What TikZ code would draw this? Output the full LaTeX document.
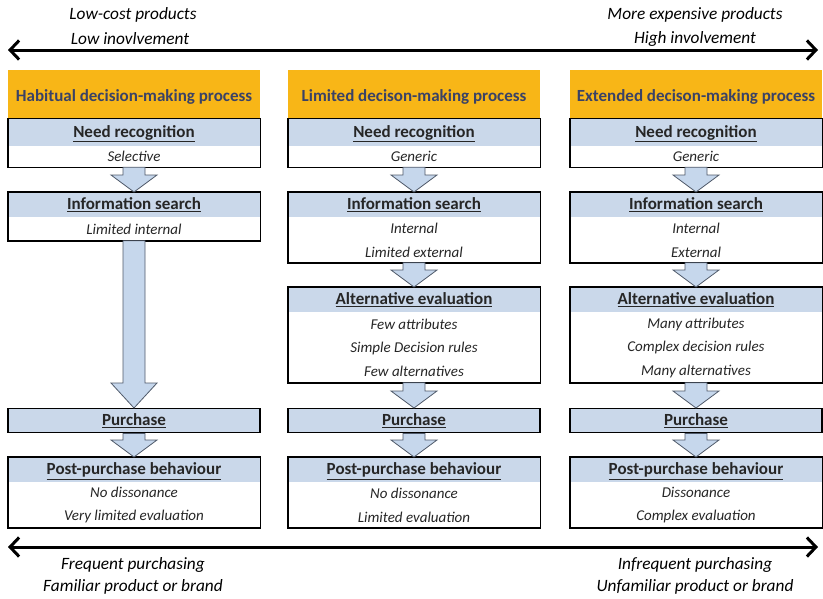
\documentclass[tikz,border=0pt]{standalone}
\usepackage{fontspec}
\setmainfont{Carlito}
\usepackage{xcolor}
\usetikzlibrary{arrows.meta,calc}
\definecolor{headorange}{HTML}{F8B617}
\definecolor{headtext}{HTML}{3A4266}
\definecolor{bandblue}{HTML}{CAD8EA}
\definecolor{arrowblue}{HTML}{C6D7EC}
\definecolor{arrowedge}{HTML}{505A6A}
\definecolor{bodytext}{HTML}{262626}
\tikzset{
header/.style = {rectangle, fill=headorange, minimum width=252pt, minimum height=48pt,
                 inner sep=0pt, anchor=north, text=headtext, text height=18pt, text depth=4pt,
                 font=\bfseries\fontsize{17}{19}\selectfont},
stagetitle/.style = {rectangle, fill=bandblue, minimum width=252pt, minimum height=25pt,
                     inner sep=0pt, anchor=north, text=bodytext, text height=14pt, text depth=4pt,
                     font=\bfseries\fontsize{17}{19}\selectfont},
stagebody/.style = {rectangle, fill=white, minimum width=252pt, inner sep=0pt,
                    anchor=north, align=center, text=bodytext,
                    font=\itshape\fontsize{15}{23.5}\selectfont},
stagebox/.style = {draw=black, line width=1.4pt},
purchase/.style = {stagetitle, minimum height=24pt, draw=black, line width=1.4pt},
scaletext/.style = {font=\itshape\fontsize{17.3}{19}\selectfont, text=black},
scalearrow/.style = {line width=3pt, {Straight Barb[length=9pt,width=19pt]}-{Straight Barb[length=9pt,width=19pt]}},
flowarrowstyle/.style = {fill=arrowblue, draw=arrowedge, line width=0.8pt, line join=miter}
}
% block arrow from (#1) down to (#2), head length #3
\newcommand{\flowarrow}[3]{%
  \path[flowarrowstyle] let \p1=(#1), \p2=(#2) in
    (\x1-11pt,\y1) -- (\x1-11pt,\y2+#3) -- (\x1-23pt,\y2+#3) -- (\x1,\y2)
    -- (\x1+23pt,\y2+#3) -- (\x1+11pt,\y2+#3) -- (\x1+11pt,\y1) -- cycle;}

\begin{document}
\begin{tikzpicture}[x=1pt,y=-1pt]
  \useasboundingbox (0,0) rectangle (823,598);

  % involvement scale on top
  \node[scaletext] (lowCost) at (133,15) {Low-cost products};
  \node[scaletext] (lowInv) at (130,39) {Low inovlvement};
  \node[scaletext] (moreExp) at (695,15) {More expensive products};
  \node[scaletext] (highInv) at (695,39) {High involvement};
  \coordinate (topLeft) at (8,50);
  \coordinate (topRight) at (818,50);
  \draw[scalearrow] (topLeft) -- (topRight);

  % column headers
  \node[header] (habHead) at (134,70) {Habitual decision-making process};
  \node[header] (limHead) at (414,70) {Limited decison-making process};
  \node[header] (extHead) at (696,70) {Extended decison-making process};

  % habitual column
  \node[stagetitle, minimum height=27pt] (habNeed) at (habHead.south) {\underline{Need recognition}};
  \node[stagebody, minimum height=21pt] (habNeedB) at (habNeed.south) {Selective};
  \draw[stagebox] (habNeed.north west) rectangle (habNeedB.south east);

  \node[stagetitle] (habInfo) at (134,192) {\underline{Information search}};
  \node[stagebody, minimum height=23pt] (habInfoB) at (habInfo.south) {Limited internal};
  \draw[stagebox] (habInfo.north west) rectangle (habInfoB.south east);

  \node[purchase] (habPurch) at (134,408) {\underline{Purchase}};

  \node[stagetitle] (habPost) at (134,457) {\underline{Post-purchase behaviour}};
  \node[stagebody, minimum height=45pt] (habPostB) at (habPost.south) {No dissonance\\Very limited evaluation};
  \draw[stagebox] (habPost.north west) rectangle (habPostB.south east);

  \flowarrow{habNeedB.south}{habInfo.north}{17pt}
  \flowarrow{habInfoB.south}{habPurch.north}{25pt}
  \flowarrow{habPurch.south}{habPost.north}{17pt}

  % limited column
  \node[stagetitle, minimum height=27pt] (limNeed) at (limHead.south) {\underline{Need recognition}};
  \node[stagebody, minimum height=21pt] (limNeedB) at (limNeed.south) {Generic};
  \draw[stagebox] (limNeed.north west) rectangle (limNeedB.south east);

  \node[stagetitle] (limInfo) at (414,192) {\underline{Information search}};
  \node[stagebody, minimum height=45pt] (limInfoB) at (limInfo.south) {Internal\\Limited external};
  \draw[stagebox] (limInfo.north west) rectangle (limInfoB.south east);

  \node[stagetitle] (limAlt) at (414,287) {\underline{Alternative evaluation}};
  \node[stagebody, minimum height=70pt] (limAltB) at (limAlt.south) {Few attributes\\Simple Decision rules\\Few alternatives};
  \draw[stagebox] (limAlt.north west) rectangle (limAltB.south east);

  \node[purchase] (limPurch) at (414,408) {\underline{Purchase}};

  \node[stagetitle] (limPost) at (414,457) {\underline{Post-purchase behaviour}};
  \node[stagebody, minimum height=45pt] (limPostB) at (limPost.south) {No dissonance\\Limited evaluation};
  \draw[stagebox] (limPost.north west) rectangle (limPostB.south east);

  \flowarrow{limNeedB.south}{limInfo.north}{17pt}
  \flowarrow{limInfoB.south}{limAlt.north}{17pt}
  \flowarrow{limAltB.south}{limPurch.north}{17pt}
  \flowarrow{limPurch.south}{limPost.north}{17pt}

  % extended column
  \node[stagetitle, minimum height=27pt] (extNeed) at (extHead.south) {\underline{Need recognition}};
  \node[stagebody, minimum height=21pt] (extNeedB) at (extNeed.south) {Generic};
  \draw[stagebox] (extNeed.north west) rectangle (extNeedB.south east);

  \node[stagetitle] (extInfo) at (696,192) {\underline{Information search}};
  \node[stagebody, minimum height=45pt] (extInfoB) at (extInfo.south) {Internal\\External};
  \draw[stagebox] (extInfo.north west) rectangle (extInfoB.south east);

  \node[stagetitle] (extAlt) at (696,287) {\underline{Alternative evaluation}};
  \node[stagebody, minimum height=70pt] (extAltB) at (extAlt.south) {Many attributes\\Complex decision rules\\Many alternatives};
  \draw[stagebox] (extAlt.north west) rectangle (extAltB.south east);

  \node[purchase] (extPurch) at (696,408) {\underline{Purchase}};

  \node[stagetitle] (extPost) at (696,457) {\underline{Post-purchase behaviour}};
  \node[stagebody, minimum height=45pt] (extPostB) at (extPost.south) {Dissonance\\Complex evaluation};
  \draw[stagebox] (extPost.north west) rectangle (extPostB.south east);

  \flowarrow{extNeedB.south}{extInfo.north}{17pt}
  \flowarrow{extInfoB.south}{extAlt.north}{17pt}
  \flowarrow{extAltB.south}{extPurch.north}{17pt}
  \flowarrow{extPurch.south}{extPost.north}{17pt}

  % purchasing scale at the bottom
  \coordinate (botLeft) at (8,547);
  \coordinate (botRight) at (818,547);
  \draw[scalearrow] (botLeft) -- (botRight);
  \node[scaletext] (freqPurch) at (133,565) {Frequent purchasing};
  \node[scaletext] (familiar) at (133,587) {Familiar product or brand};
  \node[scaletext] (infreqPurch) at (695,565) {Infrequent purchasing};
  \node[scaletext] (unfamiliar) at (695,587) {Unfamiliar product or brand};
\end{tikzpicture}
\end{document}
